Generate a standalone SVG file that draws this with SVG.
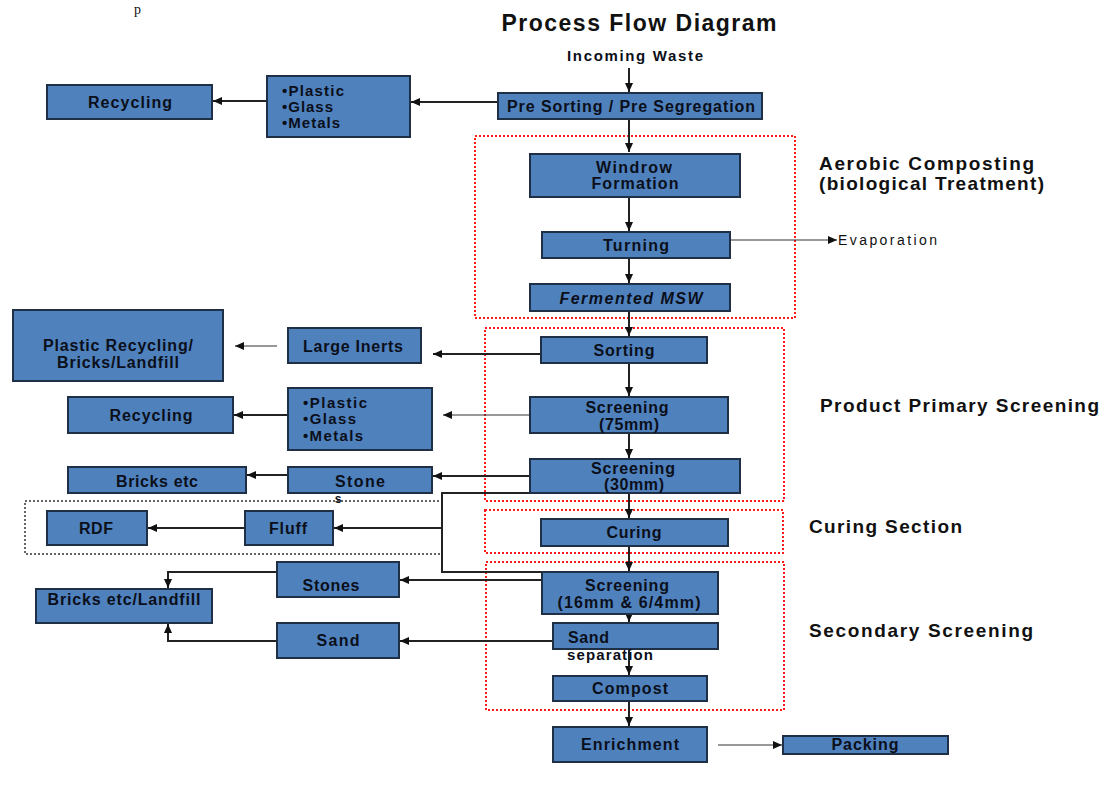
<svg xmlns="http://www.w3.org/2000/svg" width="1103" height="787" viewBox="0 0 1103 787">
<style>
.bx{fill:#4f81bd;stroke:#1f2f46;stroke-width:2}
.t{font-family:"Liberation Sans",Arial,sans-serif;font-weight:bold;font-size:16px;fill:#0b0f1a}
.c{text-anchor:middle}
.sec{font-family:"Liberation Sans",Arial,sans-serif;font-weight:bold;font-size:19px;fill:#111}
.ln{fill:none;stroke:#222;stroke-width:2}
.thin{fill:none;stroke:#333;stroke-width:1.2}
.red{fill:none;stroke:#ff1a1a;stroke-width:2;stroke-dasharray:2 2}
.blk{fill:none;stroke:#333;stroke-width:1.5;stroke-dasharray:2 2}
</style>
<defs>
<marker id="ah" markerUnits="userSpaceOnUse" markerWidth="10" markerHeight="10" refX="9" refY="4" orient="auto">
<path d="M0,0 L9,4 L0,8 z" fill="#111"/>
</marker>
</defs>
<rect width="1103" height="787" fill="#fff"/>
<text x="134" y="14" font-family="Liberation Serif,serif" font-size="14" fill="#111">p</text>
<text x="639" y="31" class="sec c" style="font-size:23px" textLength="275">Process Flow Diagram</text>
<text x="635" y="61" class="t c" style="font-size:15px" textLength="136">Incoming Waste</text>

<g id="sections">
<rect class="red" x="475" y="136" width="320" height="182"/>
<rect class="red" x="485" y="328" width="299" height="173"/>
<rect class="red" x="485" y="510" width="298" height="43"/>
<rect class="red" x="486" y="562" width="298" height="148"/>
<rect class="blk" x="25" y="501" width="417" height="53"/>
<text x="819" y="170" class="sec" textLength="215">Aerobic Composting</text>
<text x="819" y="190" class="sec" textLength="225">(biological Treatment)</text>
<text x="820" y="412" class="sec" textLength="279">Product Primary Screening</text>
<text x="809" y="533" class="sec" textLength="153">Curing Section</text>
<text x="809" y="637" class="sec" textLength="224">Secondary Screening</text>
</g>

<g id="connectors">
<path class="ln" d="M629,68 V92" marker-end="url(#ah)"/>
<path class="ln" d="M498,102 H411" marker-end="url(#ah)"/>
<path class="ln" d="M267,101 H213" marker-end="url(#ah)"/>
<path class="ln" d="M629,119 V152" marker-end="url(#ah)"/>
<path class="ln" d="M629,197 V231" marker-end="url(#ah)"/>
<path class="thin" d="M730,240 H837" marker-end="url(#ah)"/>
<path class="ln" d="M629,258 V283" marker-end="url(#ah)"/>
<path class="ln" d="M629,311 V336" marker-end="url(#ah)"/>
<path class="ln" d="M541,354 H433" marker-end="url(#ah)"/>
<path class="thin" d="M277,346 H235" marker-end="url(#ah)"/>
<path class="ln" d="M629,363 V396" marker-end="url(#ah)"/>
<path class="thin" d="M530,415 H443" marker-end="url(#ah)"/>
<path class="ln" d="M288,415 H234" marker-end="url(#ah)"/>
<path class="ln" d="M629,433 V458" marker-end="url(#ah)"/>
<path class="ln" d="M530,476 H433" marker-end="url(#ah)"/>
<path class="ln" d="M288,475 H247" marker-end="url(#ah)"/>
<path class="ln" d="M530,493 H442 V572 H542"/>
<path class="ln" d="M442,528 H334" marker-end="url(#ah)"/>
<path class="ln" d="M245,528 H148" marker-end="url(#ah)"/>
<path class="ln" d="M629,493 V518" marker-end="url(#ah)"/>
<path class="ln" d="M629,546 V571" marker-end="url(#ah)"/>
<path class="ln" d="M542,580 H400" marker-end="url(#ah)"/>
<path class="ln" d="M277,572 H168 V588" marker-end="url(#ah)"/>
<path class="ln" d="M629,604 V622" marker-end="url(#ah)"/>
<path class="ln" d="M553,641 H400" marker-end="url(#ah)"/>
<path class="ln" d="M277,641 H168 V624" marker-end="url(#ah)"/>
<path class="ln" d="M629,649 V675" marker-end="url(#ah)"/>
<path class="ln" d="M629,701 V726" marker-end="url(#ah)"/>
<path class="thin" d="M718,745 H782" marker-end="url(#ah)"/>
</g>

<g id="presort"><rect class="bx" x="498" y="93" width="264" height="26"/><text x="631" y="112" class="t c" textLength="248">Pre Sorting / Pre Segregation</text></g>
<g id="pgm1"><rect class="bx" x="267" y="76" width="143" height="61"/>
<text x="282" y="96" class="t" style="font-size:15px" textLength="62">•Plastic</text>
<text x="282" y="112" class="t" style="font-size:15px" textLength="51">•Glass</text>
<text x="282" y="128" class="t" style="font-size:15px" textLength="58">•Metals</text></g>
<g id="recycling1"><rect class="bx" x="47" y="85" width="165" height="34"/><text x="130" y="108" class="t c" textLength="84">Recycling</text></g>
<g id="windrow"><rect class="bx" x="530" y="154" width="210" height="43"/><text x="634" y="173" class="t c" textLength="76">Windrow</text><text x="635" y="189" class="t c" textLength="87">Formation</text></g>
<g id="turning"><rect class="bx" x="542" y="232" width="188" height="26"/><text x="636" y="251" class="t c" textLength="66">Turning</text></g>
<text x="838" y="245" font-family="Liberation Sans,Arial,sans-serif" font-size="14" fill="#111" textLength="99">Evaporation</text>
<g id="fermented"><rect class="bx" x="530" y="284" width="200" height="27"/><text x="631" y="304" class="t c" font-style="italic" textLength="143">Fermented MSW</text></g>
<g id="sorting"><rect class="bx" x="541" y="337" width="166" height="26"/><text x="624" y="356" class="t c" textLength="61">Sorting</text></g>
<g id="largeinerts"><rect class="bx" x="288" y="328" width="133" height="35"/><text x="353" y="352" class="t c" textLength="100">Large Inerts</text></g>
<g id="prbl"><rect class="bx" x="13" y="310" width="210" height="71"/><text x="118" y="351" class="t c" textLength="150">Plastic Recycling/</text><text x="118" y="368" class="t c" textLength="122">Bricks/Landfill</text></g>
<g id="screen75"><rect class="bx" x="530" y="397" width="198" height="36"/><text x="627" y="413" class="t c" textLength="83">Screening</text><text x="629" y="430" class="t c" textLength="60">(75mm)</text></g>
<g id="pgm2"><rect class="bx" x="288" y="388" width="144" height="62"/>
<text x="303" y="408" class="t" style="font-size:15px" textLength="64">•Plastic</text>
<text x="303" y="424" class="t" style="font-size:15px" textLength="53">•Glass</text>
<text x="303" y="441" class="t" style="font-size:15px" textLength="60">•Metals</text></g>
<g id="recycling2"><rect class="bx" x="68" y="397" width="165" height="36"/><text x="151" y="421" class="t c" textLength="83">Recycling</text></g>
<g id="screen30"><rect class="bx" x="530" y="459" width="210" height="34"/><text x="633" y="474" class="t c" textLength="84">Screening</text><text x="634" y="490" class="t c" textLength="60">(30mm)</text></g>
<g id="stone"><rect class="bx" x="288" y="467" width="144" height="26"/><text x="360" y="487" class="t c" textLength="50">Stone</text><text x="338" y="503" class="t c" style="font-size:12px">s</text></g>
<g id="bricksetc"><rect class="bx" x="68" y="467" width="178" height="26"/><text x="157" y="487" class="t c" textLength="82">Bricks etc</text></g>
<g id="fluff"><rect class="bx" x="245" y="511" width="88" height="34"/><text x="288" y="534" class="t c" textLength="38">Fluff</text></g>
<g id="rdf"><rect class="bx" x="47" y="511" width="100" height="34"/><text x="96" y="534" class="t c" textLength="34">RDF</text></g>
<g id="curing"><rect class="bx" x="541" y="519" width="187" height="27"/><text x="634" y="538" class="t c" textLength="55">Curing</text></g>
<g id="screen16"><rect class="bx" x="542" y="572" width="176" height="42"/><text x="627" y="591" class="t c" textLength="84">Screening</text><text x="629" y="608" class="t c" textLength="143">(16mm &amp; 6/4mm)</text></g>
<g id="stones"><rect class="bx" x="277" y="562" width="122" height="35"/><text x="331" y="591" class="t c" textLength="57">Stones</text></g>
<g id="bricklandfill"><rect class="bx" x="36" y="589" width="176" height="34"/><text x="124" y="605" class="t c" textLength="153">Bricks etc/Landfill</text></g>
<g id="sand"><rect class="bx" x="277" y="623" width="122" height="35"/><text x="338" y="646" class="t c" textLength="43">Sand</text></g>
<g id="sandsep"><rect class="bx" x="553" y="623" width="165" height="26"/><text x="568" y="643" class="t" textLength="41">Sand</text><text x="567" y="660" class="t" style="font-size:15px" textLength="86">separation</text></g>
<g id="compost"><rect class="bx" x="553" y="676" width="154" height="25"/><text x="630" y="694" class="t c" textLength="76">Compost</text></g>
<g id="enrichment"><rect class="bx" x="553" y="727" width="154" height="35"/><text x="630" y="750" class="t c" textLength="98">Enrichment</text></g>
<g id="packing"><rect class="bx" x="783" y="736" width="165" height="18"/><text x="865" y="750" class="t c" textLength="67">Packing</text></g>
</svg>
